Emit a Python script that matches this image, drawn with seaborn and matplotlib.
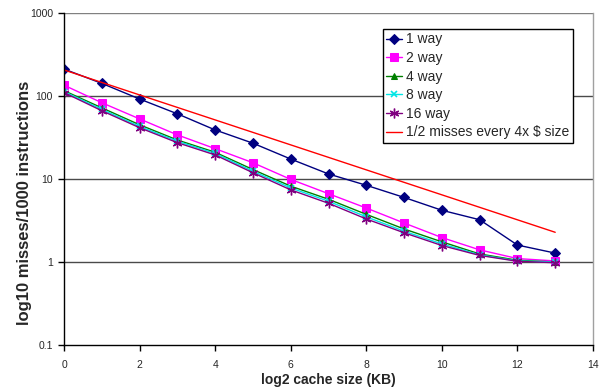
import matplotlib
matplotlib.use("Agg")
import matplotlib.pyplot as plt
import seaborn as sns
import pandas as pd

sizes = list(range(14))
way1 = [211, 142, 92, 61, 39, 27, 17.4, 11.5, 8.4, 6.0, 4.2, 3.23, 1.6, 1.28]
way2 = [135, 83, 53, 34, 23.2, 15.7, 9.9, 6.65, 4.47, 2.95, 1.97, 1.4, 1.1, 1.03]
way4 = [116, 72, 45, 29.5, 21, 13, 8.2, 5.7, 3.75, 2.5, 1.75, 1.25, 1.05, 1.0]
way8 = [113, 69, 43, 28.5, 20.3, 12.4, 7.8, 5.4, 3.5, 2.35, 1.65, 1.22, 1.03, 1.0]
way16 = [110, 66.5, 41.5, 27.4, 19.5, 11.9, 7.4, 5.1, 3.3, 2.25, 1.58, 1.2, 1.02, 0.98]
ref_x = [0, 13]
ref_y = [206, 2.28]
labels = ["1 way", "2 way", "4 way", "8 way", "16 way", "1/2 misses every 4x $ size"]
yticks = [0.1, 1, 10, 100, 1000]
ytick_labels = ["0.1", "1", "10", "100", "1000"]
xticks = [0, 2, 4, 6, 8, 10, 12, 14]

sns.set_style("white")
plt.rcParams['font.family'] = ['Liberation Sans', 'DejaVu Sans']

fig = plt.figure(figsize=(6.05, 3.92), dpi=100)
ax = fig.add_axes([64/605, 1-345/392, (593-64)/605, (345-13)/392])

styles = [
    (way1, "#000080", "D", 5, {}),
    (way2, "#FF00FF", "s", 5.5, {}),
    (way4, "#008000", "^", 5, {}),
    (way8, "#00E5E5", "x", 5, {"markeredgewidth": 1.2}),
    (way16, "#800080", (6, 2, 0), 7, {"markeredgewidth": 1.0}),
]
for (vals, col, mk, ms, extra), lab in zip(styles, labels[:5]):
    df = pd.DataFrame({"x": sizes, "y": vals})
    sns.lineplot(data=df, x="x", y="y", ax=ax, color=col, marker=mk, markersize=ms,
                 markeredgecolor=col, markerfacecolor=col, linewidth=1, label=lab, **extra)

dfr = pd.DataFrame({"x": ref_x, "y": ref_y})
sns.lineplot(data=dfr, x="x", y="y", ax=ax, color="#FF0000", linewidth=1, label=labels[5])

ax.set_yscale("log")
ax.set_ylim(0.1, 1000)
ax.set_xlim(0, 14)
ax.set_yticks(yticks)
ax.set_yticklabels(ytick_labels)
ax.set_xticks(xticks)
ax.minorticks_off()
ax.tick_params(axis="y", which="major", labelsize=7.5, length=4, width=1, color="black",
               direction="out", left=True, pad=4)
ax.tick_params(axis="x", which="major", labelsize=7.5, length=4, width=1, color="black",
               direction="out", bottom=True, pad=7)
for y in [1, 10, 100, 1000]:
    ax.axhline(y, color="#4a4a4a" if y < 1000 else "#808080", linewidth=1, zorder=0)

ax.spines["left"].set_color("black")
ax.spines["bottom"].set_color("black")
ax.spines["right"].set_color("#A0A0A0")
ax.spines["top"].set_visible(False)
for s in ax.spines.values():
    s.set_linewidth(1)

ax.set_xlabel("log2 cache size (KB)", fontsize=10, fontweight="bold", labelpad=1.7)
ax.set_ylabel("log10 misses/1000 instructions", fontsize=12, fontweight="bold")
ax.yaxis.set_label_coords(-0.0605, (345-203)/332)

leg = ax.legend(loc="upper left", bbox_to_anchor=(383/605, 1-29/392),
                bbox_transform=fig.transFigure, fontsize=10, frameon=True, fancybox=False,
                handlelength=1.1, handletextpad=0.3, borderpad=0.25, labelspacing=0.33,
                borderaxespad=0)
leg.get_frame().set_edgecolor("black")
leg.get_frame().set_linewidth(1)
leg.get_frame().set_facecolor("white")
leg.get_frame().set_alpha(1)

fig.savefig("out.png", dpi=100)
